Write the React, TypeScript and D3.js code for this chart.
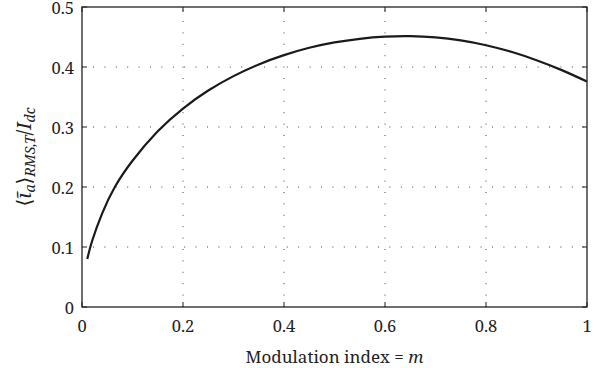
import React from "react";
import * as d3 from "d3";

const mValues = [0.0105, 0.02, 0.04, 0.065, 0.10, 0.15, 0.20, 0.25, 0.30, 0.35, 0.40, 0.45, 0.50, 0.55, 0.60, 0.65, 0.70, 0.75, 0.80, 0.85, 0.90, 0.95, 1.0];
const ratioValues = [0.080, 0.110, 0.156, 0.200, 0.2438, 0.2928, 0.3308, 0.3608, 0.3848, 0.4043, 0.4198, 0.4320, 0.4410, 0.4470, 0.4505, 0.4513, 0.4493, 0.4443, 0.4363, 0.4253, 0.4113, 0.3948, 0.3758];
const xTicks = [0, 0.2, 0.4, 0.6, 0.8, 1];
const yTicks = [0, 0.1, 0.2, 0.3, 0.4, 0.5];
const xTickLabels = ["0", "0.2", "0.4", "0.6", "0.8", "1"];
const yTickLabels = ["0", "0.1", "0.2", "0.3", "0.4", "0.5"];

const W = 610, H = 368;
const L = 82, R = 587, T = 7, B = 307;
const FONT = "'Noto Serif', 'DejaVu Serif', 'Liberation Serif', 'Times New Roman', Times, serif";

export default function App() {
  const x = d3.scaleLinear().domain([0, 1]).range([L, R]);
  const y = d3.scaleLinear().domain([0, 0.5]).range([B, T]);
  const data = mValues.map((m, i) => [m, ratioValues[i]] as [number, number]);
  const line = d3.line<[number, number]>().x(d => x(d[0])).y(d => y(d[1])).curve(d3.curveNatural);
  const tl = 5;
  const txt = { fontFamily: FONT } as React.CSSProperties;
  return (
    <svg width={W} height={H} style={{ position: "absolute", left: 0, top: 0, background: "#fff", fontFamily: FONT }}>
      <rect width={W} height={H} fill="#fff" />
      {xTicks.slice(1, -1).map(t => (
        <line key={"gx" + t} x1={x(t)} x2={x(t)} y1={B} y2={T} stroke="#444" strokeWidth={1} strokeDasharray="1 10.4" />
      ))}
      {yTicks.slice(1, -1).map(t => (
        <line key={"gy" + t} x1={L} x2={R} y1={y(t)} y2={y(t)} stroke="#444" strokeWidth={1} strokeDasharray="1 10.4" strokeDashoffset={-11} />
      ))}
      {xTicks.map(t => (
        <g key={"tx" + t}>
          <line x1={x(t)} x2={x(t)} y1={B} y2={B - tl} stroke="#222" strokeWidth={1} />
          <line x1={x(t)} x2={x(t)} y1={T} y2={T + tl} stroke="#222" strokeWidth={1} />
        </g>
      ))}
      {yTicks.map(t => (
        <g key={"ty" + t}>
          <line x1={L} x2={L + tl} y1={y(t)} y2={y(t)} stroke="#222" strokeWidth={1} />
          <line x1={R} x2={R - tl} y1={y(t)} y2={y(t)} stroke="#222" strokeWidth={1} />
        </g>
      ))}
      <path d={line(data) || ""} fill="none" stroke="#1a1a1a" strokeWidth={2.2} />
      <rect x={L} y={T} width={R - L} height={B - T} fill="none" stroke="#222" strokeWidth={1.3} />
      {xTicks.map((t, i) => (
        <text key={"lx" + t} style={txt} x={x(t)} y={332} textAnchor="middle" fontSize={16.5} fill="#222">{xTickLabels[i]}</text>
      ))}
      {yTicks.map((t, i) => (
        <text key={"ly" + t} style={txt} x={74} y={y(t) + 7} textAnchor="end" fontSize={16.5} fill="#222">{yTickLabels[i]}</text>
      ))}
      <text style={txt} x={(L + R) / 2} y={363} textAnchor="middle" fontSize={17} fill="#222">
        Modulation index = <tspan fontStyle="italic">m</tspan>
      </text>
      <text style={txt} transform={`translate(31, ${(T + B) / 2}) rotate(-90)`} textAnchor="middle" fontSize={20} fill="#222">
        ⟨<tspan fontStyle="italic">ĩ</tspan><tspan fontStyle="italic" fontSize={14} dy={4}>a</tspan><tspan dy={-4}>⟩</tspan><tspan fontStyle="italic" fontSize={14} dy={4}>RMS,T</tspan><tspan dy={-4}>/</tspan><tspan fontStyle="italic">I</tspan><tspan fontStyle="italic" fontSize={14} dy={4}>dc</tspan>
      </text>
    </svg>
  );
}
